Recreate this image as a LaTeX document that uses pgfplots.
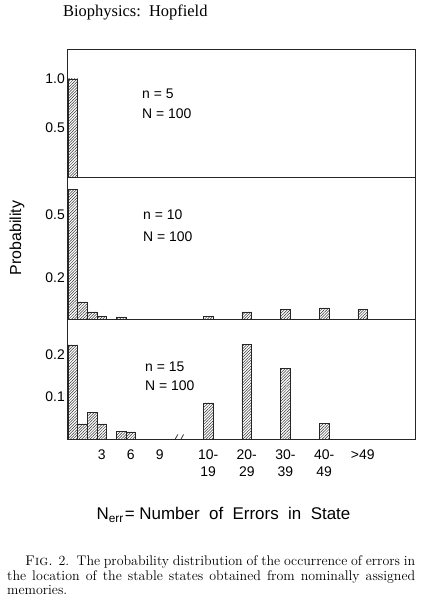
\documentclass[border=0pt]{standalone}
\usepackage{fontspec}
\usepackage{pgfplots}
\usepackage{pgfplotstable}
\pgfplotsset{compat=1.18}
\usetikzlibrary{patterns.meta}
\newfontfamily\lf{Liberation Sans}
\newfontfamily\hf{Liberation Serif}

% panel 1: n=5
\pgfplotstableread{
x y
0 1.0
}\tabA
% panel 2: n=10 (bins: 14=10-19, 18=20-29, 22=30-39, 26=40-49, 30=>49)
\pgfplotstableread{
x y
0 0.625
1 0.082
2 0.034
3 0.014
5 0.010
14 0.013
18 0.034
22 0.048
26 0.053
30 0.048
}\tabB
% panel 3: n=15
\pgfplotstableread{
x y
0 0.224
1 0.036
2 0.064
3 0.036
5 0.019
6 0.017
14 0.086
18 0.226
22 0.169
26 0.038
}\tabC

\pgfplotsset{
  panel/.style={
    scale only axis, width=348bp, xmin=-0.6, xmax=35.4, ymin=0,
    anchor=south west,
    ybar, bar width=1,
    axis line style={black!85, line width=0.8bp},
    major tick length=0, xtick=\empty,
    /pgf/number format/assume math mode=true,
    yticklabel style={font=\lf\fontsize{14}{14}\selectfont, inner sep=2bp},
  },
  hatch/.style={draw=black!85, line width=0.6bp, fill=none,
      pattern={Lines[angle=45,distance=2bp,line width=0.5bp]}, pattern color=black!80},
}

\begin{document}
\begin{tikzpicture}
\path[use as bounding box] (0,0) rectangle (423bp,600bp);

\begin{axis}[panel, at={(67bp,423bp)}, height=128bp, ymax=1.306,
  ytick={0.5,1.0}, yticklabels={0.5,1.0}]
\addplot[hatch] table[x=x,y=y]{\tabA};
\end{axis}

\begin{axis}[panel, at={(67bp,281bp)}, height=142bp, ymax=0.683,
  ytick={0.2,0.5}, yticklabels={0.2,0.5}]
\addplot[hatch] table[x=x,y=y]{\tabB};
\end{axis}

\begin{axis}[panel, at={(67bp,161bp)}, height=120bp, ymax=0.2857,
  ytick={0.1,0.2}, yticklabels={0.1,0.2},
  xtick={3,6,9,14,18,22,26,30},
  xticklabels={3,6,9,{10-\\19},{20-\\29},{30-\\39},{40-\\49},{>49}},
  xticklabel style={align=center, font=\lf\fontsize{14}{17}\selectfont, inner sep=2bp, yshift=-9bp}]
\addplot[hatch] table[x=x,y=y]{\tabC};
\draw[black!85, line width=0.7bp] (axis cs:10.6,0) ++(-2.5bp,-4.5bp) -- ++(5bp,9bp);
\draw[black!85, line width=0.7bp] (axis cs:11.2,0) ++(-2.5bp,-4.5bp) -- ++(5bp,9bp);
\end{axis}

% panel annotations
\begin{scope}[every node/.style={anchor=base west, inner sep=0pt, font=\lf\fontsize{14}{14}\selectfont}]
\node at (142bp,501bp) {n = 5};
\node at (142bp,481bp) {N = 100};
\node at (143bp,380bp) {n = 10};
\node at (143bp,358bp) {N = 100};
\node at (145bp,228bp) {n = 15};
\node at (145bp,209bp) {N = 100};
\end{scope}

% y label
\node[rotate=90, font=\lf\fontsize{16}{16}\selectfont, inner sep=0pt] at (17bp,362bp) {Probability};

% x label
\node[anchor=base, inner sep=0pt, font=\lf\fontsize{17}{17}\selectfont] at (223.5bp,80bp)
  {N\textsubscript{err}\kern1pt= Number\ \ of\ \ Errors\ \ in\ \ State};

% header
\node[anchor=base west, inner sep=0pt, font=\hf\fontsize{16.5}{16.5}\selectfont] at (63bp,583bp)
  {Biophysics:\ \ Hopfield};

% caption
\begin{scope}[every node/.style={anchor=base west, inner sep=0pt, font=\rmfamily\fontsize{14}{15}\selectfont}]
\node at (25bp,35bp) {\makebox[390bp][s]{\textsc{Fig.} 2.\ \ The probability distribution of the occurrence of errors in}};
\node at (7bp,20bp) {\makebox[408bp][s]{the location of the stable states obtained from nominally assigned}};
\node at (7bp,6bp) {memories.};
\end{scope}
\end{tikzpicture}
\end{document}
